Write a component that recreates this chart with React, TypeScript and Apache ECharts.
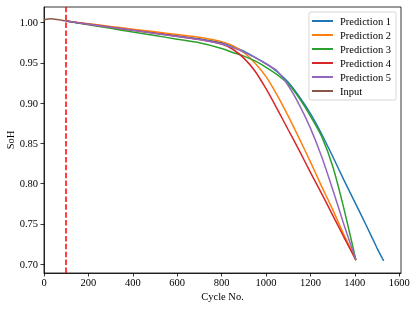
import React, { useEffect, useRef } from "react";
import * as echarts from "echarts";

const predCycles = [100, 200, 300, 400, 500, 600, 700, 800, 850, 900, 950, 1000, 1050, 1100, 1150, 1200, 1250, 1300, 1350, 1405];
const pred1Cycles = [100, 200, 300, 400, 500, 600, 700, 800, 850, 900, 950, 1000, 1050, 1100, 1150, 1200, 1250, 1300, 1350, 1400, 1450, 1500, 1530];
const pred1 = [1.002, 0.9983, 0.9947, 0.991, 0.9873, 0.9837, 0.98, 0.975, 0.9705, 0.9645, 0.957, 0.949, 0.939, 0.926, 0.908, 0.887, 0.862, 0.834, 0.805, 0.777, 0.749, 0.72, 0.704];
const pred2 = [1.002, 0.9987, 0.9953, 0.992, 0.9887, 0.9853, 0.982, 0.9765, 0.9715, 0.963, 0.95, 0.933, 0.91, 0.884, 0.856, 0.827, 0.797, 0.768, 0.737, 0.705];
const pred3 = [1.002, 0.9975, 0.993, 0.9885, 0.984, 0.9795, 0.975, 0.968, 0.963, 0.9585, 0.9525, 0.9445, 0.9355, 0.924, 0.906, 0.884, 0.859, 0.822, 0.77, 0.705];
const pred4 = [1.002, 0.9982, 0.9945, 0.9907, 0.987, 0.983, 0.979, 0.9735, 0.967, 0.956, 0.94, 0.918, 0.893, 0.867, 0.841, 0.814, 0.788, 0.761, 0.734, 0.705];
const pred5 = [1.002, 0.9982, 0.9943, 0.9905, 0.9867, 0.9828, 0.979, 0.9735, 0.969, 0.9635, 0.957, 0.949, 0.94, 0.922, 0.898, 0.869, 0.834, 0.793, 0.75, 0.705];
const inputCycles = [0, 10, 20, 30, 40, 50, 60, 70, 80, 90, 100];
const inputVals = [1.0035, 1.0043, 1.0047, 1.0048, 1.0047, 1.0044, 1.004, 1.0035, 1.003, 1.0025, 1.002];
const splitCycle = 100;

const xTicks = [0, 200, 400, 600, 800, 1000, 1200, 1400, 1600];
const yTicks = [0.7, 0.75, 0.8, 0.85, 0.9, 0.95, 1.0];

const seriesNames = ["Prediction 1", "Prediction 2", "Prediction 3", "Prediction 4", "Prediction 5", "Input"];
const colors = ["#1f77b4", "#ff7f0e", "#2ca02c", "#d62728", "#9467bd", "#8c564b"];

const zip = (xs: number[], ys: number[]) => xs.map((x, i) => [x, ys[i]]);

const FONT = "'Liberation Serif', 'DejaVu Serif', serif";

export default function App() {
  const ref = useRef<HTMLDivElement>(null);
  useEffect(() => {
    if (!ref.current) return;
    const chart = echarts.init(ref.current, null, { renderer: "svg" });
    const datasets = [
      zip(pred1Cycles, pred1),
      zip(predCycles, pred2),
      zip(predCycles, pred3),
      zip(predCycles, pred4),
      zip(predCycles, pred5),
      zip(inputCycles, inputVals),
    ];
    const series: any[] = datasets.map((d, i) => ({
      name: seriesNames[i],
      type: "line",
      data: d,
      showSymbol: false,
      symbol: "none",
      smooth: 0.2,
      lineStyle: { color: colors[i], width: 1.5 },
      itemStyle: { color: colors[i] },
      z: 2 + i,
    }));
    series[5].markLine = {
      silent: true,
      symbol: "none",
      label: { show: false },
      lineStyle: { color: "#ff0000", type: [5.5, 2.4], width: 1.5 },
      data: [{ xAxis: splitCycle }],
    };
    chart.setOption({
      animation: false,
      textStyle: { fontFamily: FONT },
      grid: {
        left: 44,
        right: 15,
        top: 7,
        bottom: 36,
        outerBoundsMode: "none",
        containLabel: false,
        show: true,
        borderColor: "#000",
        borderWidth: 0.8,
        backgroundColor: "transparent",
      },
      legend: {
        orient: "vertical",
        right: 20,
        top: 12,
        data: seriesNames,
        icon: "rect",
        itemWidth: 21,
        itemHeight: 2,
        itemGap: 2,
        padding: [3, 5, 3, 3],
        backgroundColor: "#fff",
        borderColor: "#cccccc",
        borderWidth: 0.8,
        borderRadius: 2,
        textStyle: { fontFamily: FONT, fontSize: 10.5, color: "#000", lineHeight: 12, padding: [0, 0, 0, 2] },
      },
      xAxis: {
        type: "value",
        min: 0,
        max: 1608,
        name: "Cycle No.",
        nameLocation: "middle",
        nameGap: 18,
        nameMoveOverlap: false,
        nameTextStyle: { fontFamily: FONT, fontSize: 10.5, color: "#000" },
        axisLine: { show: true, lineStyle: { color: "#000", width: 0.8 } },
        axisTick: { show: true, length: 3.5, lineStyle: { color: "#000", width: 0.8 }, customValues: xTicks },
        axisLabel: {
          fontFamily: FONT,
          fontSize: 10.5,
          color: "#000",
          margin: 4,
          customValues: xTicks,
          formatter: (v: number) => String(Math.round(v)),
        },
        splitLine: { show: false },
      },
      yAxis: {
        type: "value",
        min: 0.689,
        max: 1.0195,
        name: "SoH",
        nameLocation: "middle",
        nameRotate: 90,
        nameGap: 28,
        nameMoveOverlap: false,
        nameTextStyle: { fontFamily: FONT, fontSize: 10.5, color: "#000" },
        axisLine: { show: true, lineStyle: { color: "#000", width: 0.8 } },
        axisTick: { show: true, length: 3.5, lineStyle: { color: "#000", width: 0.8 }, customValues: yTicks },
        axisLabel: {
          fontFamily: FONT,
          fontSize: 10.5,
          color: "#000",
          margin: 6,
          customValues: yTicks,
          formatter: (v: number) => v.toFixed(2),
        },
        splitLine: { show: false },
      },
      series,
    });
    return () => chart.dispose();
  }, []);
  return <div ref={ref} style={{ position: "fixed", left: 0, top: 0, width: 416, height: 309 }} />;
}
